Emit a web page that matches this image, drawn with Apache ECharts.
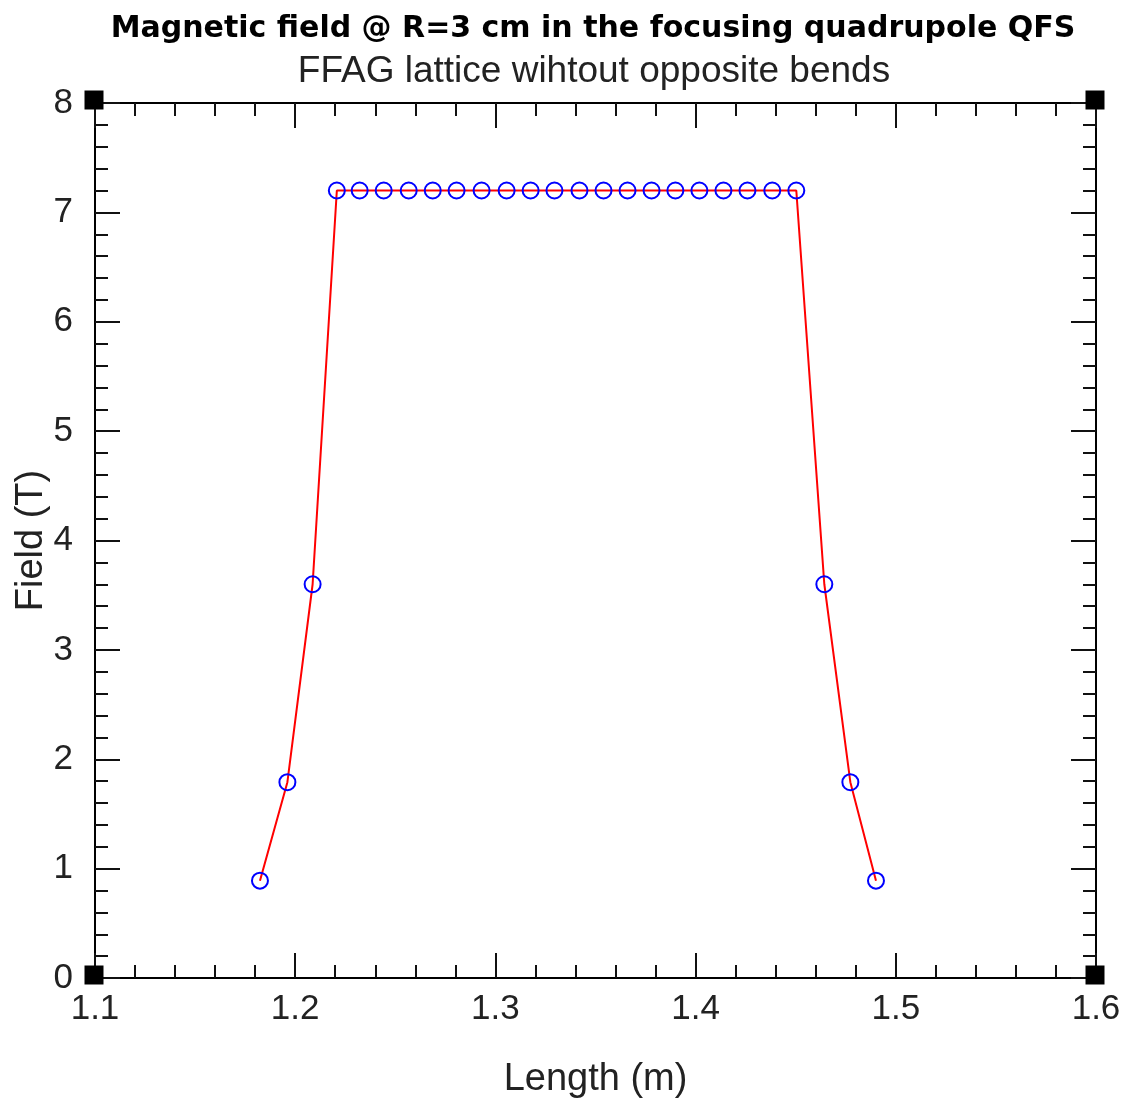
<!DOCTYPE html>
<html>
<head>
<meta charset="utf-8">
<title>Magnetic field QFS</title>
<script src="https://cdn.jsdelivr.net/npm/echarts@6.0.0/dist/echarts.min.js"></script>
<style>
  html, body { margin: 0; padding: 0; background: #fff; }
  #main { width: 1126px; height: 1099px; }
</style>
</head>
<body>
<div id="main"></div>
<script>
// data
var lengthM = [1.1824, 1.1961, 1.2087, 1.2208, 1.2322, 1.2442, 1.2567, 1.2687, 1.2806, 1.2931,
  1.3056, 1.3176, 1.3295, 1.3420, 1.3540, 1.3660, 1.3780, 1.3899, 1.4019, 1.4139,
  1.4259, 1.4383, 1.4503, 1.4643, 1.4773, 1.4901];
var fieldT = [0.89, 1.79, 3.6, 7.2, 7.2, 7.2, 7.2, 7.2, 7.2, 7.2,
  7.2, 7.2, 7.2, 7.2, 7.2, 7.2, 7.2, 7.2, 7.2, 7.2,
  7.2, 7.2, 7.2, 3.6, 1.79, 0.89];
var xTicks = [1.1, 1.2, 1.3, 1.4, 1.5, 1.6];
var yTicks = [0, 1, 2, 3, 4, 5, 6, 7, 8];
// frame corners (black squares)
var corners = [[1.1, 0], [1.1, 8], [1.6, 0], [1.6, 8]];

var titleText = 'Magnetic field @ R=3 cm in the focusing quadrupole QFS';
var subText = 'FFAG lattice wihtout opposite bends';

var points = lengthM.map(function (x, i) { return [x, fieldT[i]]; });

var myChart = echarts.init(document.getElementById('main'), null, { renderer: 'canvas' });

var lightFont = '"Liberation Sans", "DejaVu Sans", sans-serif';

function baseAxis(show) {
  return {
    axisLine: { show: true, onZero: false, lineStyle: { color: '#000', width: 2 } },
    axisTick: { show: true, inside: true, length: 25, lineStyle: { color: '#111', width: 2 } },
    minorTick: { show: true, splitNumber: 5, length: 13, lineStyle: { color: '#111', width: 2 } },
    splitLine: { show: false },
    axisLabel: { show: show }
  };
}

var xMain = Object.assign(baseAxis(true), {
  type: 'value', position: 'bottom', min: 1.1, max: 1.6, interval: 0.1,
  name: 'Length (m)', nameLocation: 'middle', nameGap: 83, nameMoveOverlap: false,
  nameTextStyle: { fontFamily: lightFont, fontSize: 38, color: '#222' }
});
xMain.axisLabel = {
  show: true, margin: 14, fontFamily: lightFont, fontSize: 35, color: '#222',
  formatter: function (v) {
    var hit = xTicks.filter(function (t) { return Math.abs(t - v) < 1e-6; });
    return hit.length ? hit[0].toFixed(1) : '';
  }
};
var xTop = Object.assign(baseAxis(false), {
  type: 'value', position: 'top', min: 1.1, max: 1.6, interval: 0.1
});

var yMain = Object.assign(baseAxis(true), {
  type: 'value', position: 'left', min: 0, max: 8, interval: 1,
  name: 'Field (T)', nameLocation: 'middle', nameGap: 44, nameMoveOverlap: false,
  nameTextStyle: { fontFamily: lightFont, fontSize: 38, color: '#222' }
});
yMain.axisLabel = {
  show: true, margin: 22, fontFamily: lightFont, fontSize: 35, color: '#222',
  formatter: function (v) { return yTicks.indexOf(v) >= 0 ? String(v) : ''; }
};
var yRight = Object.assign(baseAxis(false), {
  type: 'value', position: 'right', min: 0, max: 8, interval: 1
});

var option = {
  backgroundColor: '#fff',
  animation: false,
  title: [
    {
      // centred over the plot area, not the page
      text: titleText, left: 588, top: 9, textAlign: 'center',
      textStyle: { fontFamily: '"DejaVu Sans", sans-serif', fontWeight: 'bold', fontSize: 30, color: '#000' }
    },
    {
      text: subText, left: 589, top: 48, textAlign: 'center',
      textStyle: { fontFamily: lightFont, fontWeight: 'normal', fontSize: 37, color: '#222' }
    }
  ],
  grid: { left: 95, right: 30, top: 103, bottom: 121, containLabel: false, outerBoundsMode: 'none' },
  xAxis: [xMain, xTop],
  yAxis: [yMain, yRight],
  series: [
    {
      name: 'field',
      type: 'line',
      data: points,
      symbol: 'circle',
      symbolSize: 16,
      showAllSymbol: true,
      lineStyle: { color: '#ff0000', width: 2 },
      itemStyle: { color: 'rgba(255,255,255,0)', borderColor: '#0000ff', borderWidth: 2 },
      z: 3
    },
    {
      name: 'corners',
      type: 'scatter',
      data: corners,
      symbol: 'rect',
      symbolSize: 19,
      symbolOffset: [-1, -3],
      itemStyle: { color: '#000', opacity: 1 },
      z: 1,
      silent: true
    }
  ]
};

myChart.setOption(option);
</script>
</body>
</html>
